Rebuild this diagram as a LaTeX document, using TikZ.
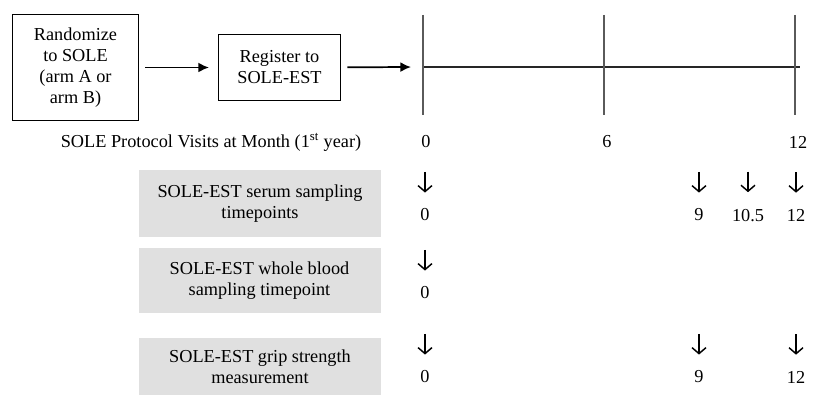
\documentclass[tikz,border=0pt]{standalone}
\usepackage{fontspec}
\setmainfont{Liberation Serif}
\usetikzlibrary{positioning,arrows.meta}
\definecolor{boxgrey}{RGB}{224,224,224}
\definecolor{tickgrey}{RGB}{90,90,90}
\tikzset{whitebox/.style={draw,line width=0.8pt,align=center,inner sep=2pt},
	 greybox/.style={fill=boxgrey,align=center,minimum width=181.5pt,inner sep=2pt},
	 flow/.style={line width=1.3pt,-{Latex[length=8pt,width=7.5pt]}},
	 downarr/.style={line width=1.1pt,-{Straight Barb[length=4.5pt,width=10.5pt]}},
	 axis/.style={line width=0.8pt,black!85},
	 tick/.style={line width=0.9pt,tickgrey},
	 num/.style={inner sep=0pt}
	 }

\begin{document}
\begin{tikzpicture}[x=0.75pt,y=-0.75pt,font=\fontsize{13.7}{15.8}\selectfont]
	\useasboundingbox (0,0) rectangle (814,398);
	% entry into the study
	\node[whitebox,minimum width=95pt,minimum height=79pt] (rand) at (75.5,67.5) {Randomize\\to SOLE\\(arm A or\\arm B)};
	\node[whitebox,minimum width=91pt,minimum height=50pt] (reg) at (279.5,67.5) {Register to\\SOLE-EST};
	\coordinate (t0) at (423,67);
	\coordinate (tend) at (800,67);
	\draw[flow,shorten <=4.5pt,shorten >=7pt] (rand) -- (reg);
	\draw[flow,shorten <=5pt,shorten >=9pt] (reg) -- (t0);
	% protocol visits
	\draw[axis] (t0) -- (tend);
	\foreach \x/\m in {423/0,604/6,795/12}{
		\draw[tick] (\x,15) -- (\x,115);
		\node[num] (v\m) at (\x+3,142) {\m};
	}
	\node (visits) at (211,142) {SOLE Protocol Visits at Month (1\textsuperscript{st} year)};
	% SOLE-EST timepoints
	\node[greybox,minimum height=50pt] (serum) at (260,203.5) {SOLE-EST serum sampling\\timepoints};
	\node[greybox,minimum height=49pt] (blood) at (259.5,280.5) {SOLE-EST whole blood\\sampling timepoint};
	\node[greybox,minimum height=43pt] (grip) at (260,366.5) {SOLE-EST grip strength\\measurement};
	\node[num] (s0) at (425,215) {0};
	\node[num] (s9) at (699,215) {9};
	\node[num] (s105) at (748,216) {10.5};
	\node[num] (s12) at (796,215) {12};
	\node[num] (b0) at (425,293) {0};
	\node[num] (g0) at (425,377) {0};
	\node[num] (g9) at (699,377) {9};
	\node[num] (g12) at (796,377) {12};
	\foreach \n in {s0,s9,s12,b0,g0,g9,g12}
		\draw[downarr] ([yshift=27.5pt]\n.north) -- ([yshift=12pt]\n.north);
	\draw[downarr] ([yshift=28.5pt]s105.north) -- ([yshift=13pt]s105.north);
\end{tikzpicture}
\end{document}
